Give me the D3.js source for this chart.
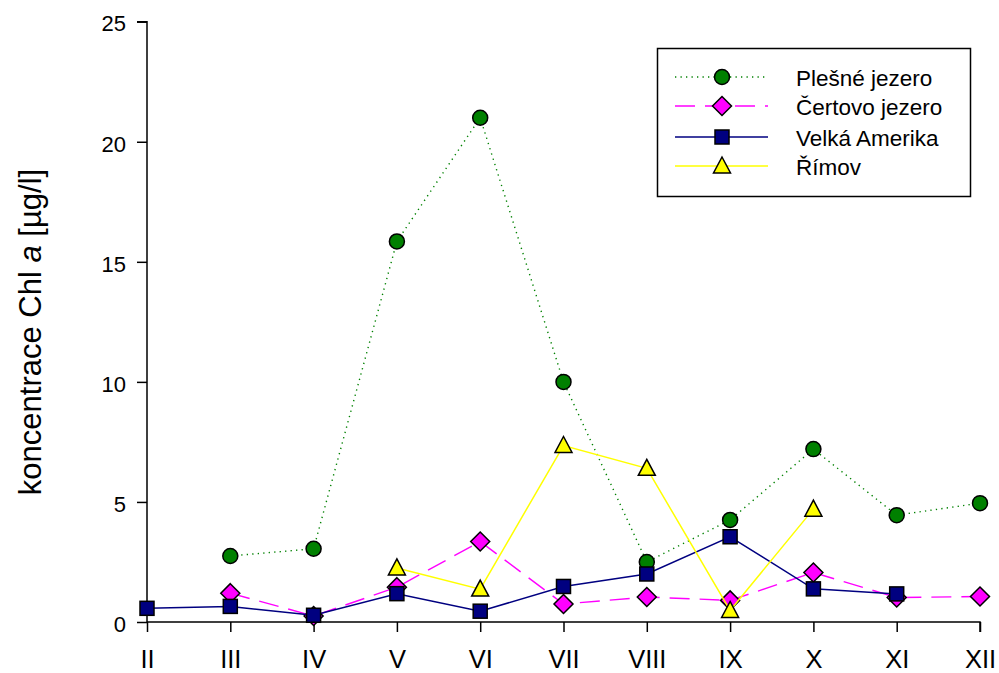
<!DOCTYPE html>
<html>
<head>
<meta charset="utf-8">
<script src="https://cdn.jsdelivr.net/npm/d3@7"></script>
<style>
  html, body { margin: 0; padding: 0; background: #fff; }
  svg { display: block; font-family: "Liberation Sans", Arial, sans-serif; }
</style>
</head>
<body>
<svg id="chart" width="999" height="673"></svg>
<script>
// Months (roman numerals) and chlorophyll a concentrations [µg/l]
const months = ["II", "III", "IV", "V", "VI", "VII", "VIII", "IX", "X", "XI", "XII"];
const plesne  = [null, 2.75, 3.05, 15.85, 21.0, 10.0, 2.5, 4.25, 7.2, 4.45, 4.95];
const certovo = [null, 1.2, 0.25, 1.45, 3.35, 0.75, 1.04, 0.9, 2.06, 1.02, 1.06];
const velka   = [0.57, 0.65, 0.28, 1.18, 0.45, 1.48, 2.0, 3.55, 1.38, 1.17, null];
const rimov   = [null, null, null, 2.25, 1.37, 7.35, 6.4, 0.48, 4.7, null, null];
const yTicks  = [0, 5, 10, 15, 20, 25];

const series = [
  { name: "Plešné jezero",  values: plesne,  color: "#008000", dash: "1.3,4.2", width: 1.4, marker: "circle" },
  { name: "Čertovo jezero", values: certovo, color: "#FF00FF", dash: "20,10",   width: 1.4, marker: "diamond" },
  { name: "Velká Amerika",  values: velka,   color: "#000080", dash: null,      width: 1.5, marker: "square" },
  { name: "Římov",          values: rimov,   color: "#FFFF00", dash: null,      width: 1.5, marker: "triangle" }
];

const svg = d3.select("#chart");
const plotL = 147, plotR = 980, plotT = 21.7, plotB = 622;

const x = d3.scalePoint().domain(months).range([plotL, plotR]);
const y = d3.scaleLinear().domain([0, 25]).range([plotB, plotT]);

// Axes
const yAxis = svg.append("g")
  .attr("transform", `translate(${plotL},0)`)
  .call(d3.axisLeft(y).tickValues(yTicks).tickSize(10).tickPadding(11));
const xAxis = svg.append("g")
  .attr("transform", `translate(0,${plotB})`)
  .call(d3.axisBottom(x).tickSize(10));

[yAxis, xAxis].forEach(g => {
  g.select(".domain").attr("stroke", "#000").attr("stroke-width", 1.5);
  g.selectAll(".tick line").attr("stroke", "#000").attr("stroke-width", 1.5);
  g.selectAll(".tick text").attr("fill", "#000").attr("font-family", "Liberation Sans, Arial, sans-serif");
});
yAxis.select(".domain").attr("d", `M-10,${plotT}H0V${plotB}`);
xAxis.select(".domain").attr("d", `M${plotL},0H${plotR}V10`);
yAxis.selectAll(".tick text").attr("font-size", 22).attr("dy", "0.42em");
xAxis.selectAll(".tick text").attr("font-size", 25.5).attr("y", 46).attr("dy", null);

// Axis title
svg.append("text")
  .attr("transform", `translate(41,332) rotate(-90)`)
  .attr("text-anchor", "middle")
  .attr("font-size", 31)
  .attr("fill", "#000")
  .call(t => {
    t.append("tspan").text("koncentrace Chl ");
    t.append("tspan").attr("font-style", "italic").text("a");
    t.append("tspan").text(" [µg/l]");
  });

// Marker shapes
function drawMarker(g, type, cx, cy, color) {
  let el;
  if (type === "circle") {
    el = g.append("circle").attr("cx", cx).attr("cy", cy).attr("r", 7.5);
  } else if (type === "diamond") {
    const r = 9.5;
    el = g.append("path").attr("d", `M${cx},${cy - r}L${cx + r},${cy}L${cx},${cy + r}L${cx - r},${cy}Z`);
  } else if (type === "square") {
    const h = 7;
    el = g.append("rect").attr("x", cx - h).attr("y", cy - h).attr("width", 2 * h).attr("height", 2 * h);
  } else {
    const w = 8.5, up = 9, dn = 7;
    el = g.append("path").attr("d", `M${cx},${cy - up}L${cx + w},${cy + dn}L${cx - w},${cy + dn}Z`);
  }
  el.attr("fill", color).attr("stroke", "#000").attr("stroke-width", 1.5).attr("stroke-linejoin", "miter");
}

// Series lines and markers
series.forEach(s => {
  const g = svg.append("g");
  const pts = months.map((m, i) => ({ m, v: s.values[i] }));
  const line = d3.line()
    .defined(d => d.v != null)
    .x(d => x(d.m))
    .y(d => y(d.v));
  g.append("path")
    .attr("d", line(pts))
    .attr("fill", "none")
    .attr("stroke", s.color)
    .attr("stroke-width", s.width)
    .attr("stroke-dasharray", s.dash);
  pts.filter(d => d.v != null).forEach(d => drawMarker(g, s.marker, x(d.m), y(d.v), s.color));
});

// Legend
const lg = svg.append("g");
lg.append("rect")
  .attr("x", 657.5).attr("y", 48.5).attr("width", 313).attr("height", 148)
  .attr("fill", "#fff").attr("stroke", "#000").attr("stroke-width", 1.5);
const rowY = [77, 106, 137, 166];
series.forEach((s, i) => {
  const yy = rowY[i];
  lg.append("line")
    .attr("x1", 675).attr("x2", 768).attr("y1", yy).attr("y2", yy)
    .attr("stroke", s.color).attr("stroke-width", s.width)
    .attr("stroke-dasharray", s.dash);
  drawMarker(lg, s.marker, 722, yy, s.color);
  lg.append("text")
    .attr("x", 796).attr("y", yy + 9)
    .attr("font-size", 22.5).attr("fill", "#000")
    .text(s.name);
});
</script>
</body>
</html>
